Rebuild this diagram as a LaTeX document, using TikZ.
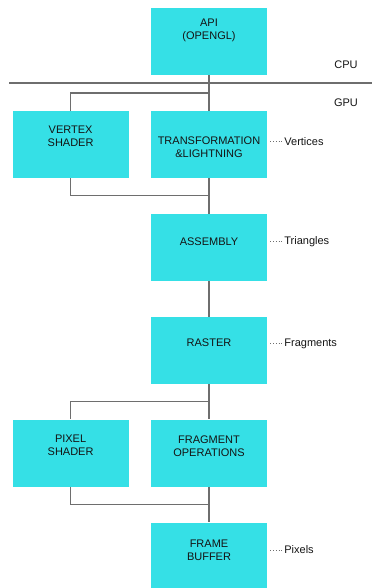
\documentclass[tikz,border=0pt]{standalone}
\usepackage{fontspec}
\setmainfont{Liberation Sans}
\usepackage{xcolor}
\usetikzlibrary{positioning,calc}
\definecolor{stagecyan}{HTML}{35E0E6}
\definecolor{wire}{HTML}{6E6E6E}
\definecolor{ink}{HTML}{141414}
\tikzset{
  stagebox/.style={
    rectangle, fill=stagecyan, draw=none,
    minimum width=116pt, minimum height=67pt,
    font=\fontsize{11pt}{13pt}\selectfont, text=ink, align=center,
    inner sep=2pt
  },
  lift/.style={text depth=#1},
  sink/.style={text height=#1},
  link/.style={wire, line width=1.2pt},
  notelabel/.style={font=\fontsize{11pt}{13pt}\selectfont, text=ink,
    anchor=west, inner sep=1pt},
  dotlink/.style={wire, dotted, line width=0.8pt},
}
\begin{document}
\begin{tikzpicture}[x=1pt, y=-1pt, node distance=35.5pt and 22pt]
  \useasboundingbox (0,0) rectangle (372,588);
  % main column
  \node[stagebox, lift=24pt] (api) at (209,41.5) {API\\(OPENGL)};
  \node[stagebox, sink=27pt, below=of api] (trans) {TRANSFORMATION\\\&LIGHTNING};
  \node[stagebox, lift=17pt, left=of trans] (vshader) {VERTEX\\SHADER};
  \node[stagebox, lift=12pt, below=of trans] (asm) {ASSEMBLY};
  \node[stagebox, lift=15pt, below=of asm] (raster) {RASTER};
  \node[stagebox, lift=13pt, below=of raster] (fragops) {FRAGMENT\\OPERATIONS};
  \node[stagebox, lift=15pt, left=of fragops] (pshader) {PIXEL\\SHADER};
  \node[stagebox, lift=12pt, below=of fragops] (fbuf) {FRAME\\BUFFER};
  % cpu / gpu split
  \coordinate (splitL) at (9,83);
  \coordinate (splitR) at (372,83);
  \draw[link] (splitL) -- (splitR);
  \node[notelabel, anchor=center] (cpu) at (346,65) {CPU};
  \node[notelabel, anchor=center] (gpu) at (346,103) {GPU};
  % connectors
  \draw[link] (api.south) -- (trans.north);
  \draw[link] ($(api.south)!0.5!(trans.north)$) -| (vshader.north);
  \draw[link] (trans.south) -- (asm.north);
  \draw[link] (vshader.south) |- ($(trans.south)!0.5!(asm.north)$);
  \draw[link] (asm.south) -- (raster.north);
  \draw[link] (raster.south) -- (fragops.north);
  \draw[link] ($(raster.south)!0.5!(fragops.north)$) -| (pshader.north);
  \draw[link] (fragops.south) -- (fbuf.north);
  \draw[link] (pshader.south) |- ($(fragops.south)!0.5!(fbuf.north)$);
  % side notes
  \node[notelabel, right=16pt of trans, yshift=3pt] (verts) {Vertices};
  \node[notelabel, right=16pt of asm, yshift=5.5pt] (tris) {Triangles};
  \node[notelabel, right=16pt of raster, yshift=6.5pt] (frags) {Fragments};
  \node[notelabel, right=16pt of fbuf, yshift=6pt] (pix) {Pixels};
  \draw[dotlink] ($(verts.west -| trans.east)+(3pt,0)$) -- (verts.west);
  \draw[dotlink] ($(tris.west -| asm.east)+(3pt,0)$) -- (tris.west);
  \draw[dotlink] ($(frags.west -| raster.east)+(3pt,0)$) -- (frags.west);
  \draw[dotlink] ($(pix.west -| fbuf.east)+(3pt,0)$) -- (pix.west);
\end{tikzpicture}
\end{document}
